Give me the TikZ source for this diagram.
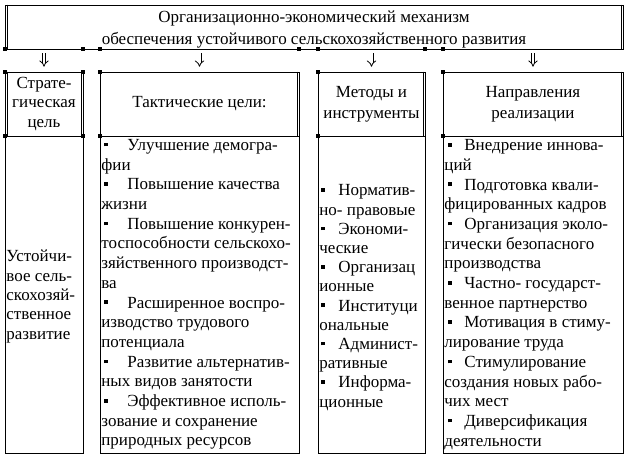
\documentclass[tikz,border=0pt]{standalone}
\usepackage{fontspec}
\setmainfont{Liberation Serif}
\usetikzlibrary{arrows.meta}
\newcommand\bulA{\makebox[26pt][l]{\hspace*{3pt}\rule[4pt]{3.6pt}{3.6pt}}}
\newcommand\bulB{\makebox[19pt][l]{\hspace*{2pt}\rule[4pt]{3.6pt}{3.6pt}}}
\newcommand\bulC{\makebox[20pt][l]{\hspace*{4pt}\rule[4pt]{3.6pt}{3.6pt}}}
\begin{document}
\begin{tikzpicture}[x=1pt,y=-1pt,
  every node/.style={font=\fontsize{17}{19.7}\selectfont},
  hbox/.style={draw,line width=0.6pt,inner sep=0pt,minimum height=64pt,align=center},
  bbox/.style={draw,line width=0.6pt,inner sep=0pt,minimum height=317pt},
  txt/.style={inner sep=0pt,align=left},
  dar/.style={double,double distance=2.4pt,line width=0.8pt,-{Implies},shorten <=4pt,shorten >=5pt},
  heavy/.style={line width=1.6pt},
  thinln/.style={line width=0.6pt}]
\useasboundingbox[fill=white] (0,0) rectangle (637,461);
% title box
\node[draw,line width=0.6pt,inner sep=0pt,minimum width=618pt,minimum height=44pt] (top) at (314,27) {};
\node[inner sep=0pt,align=center,font=\fontsize{17}{22}\selectfont] (title) at (314,29.5)
  {Организационно-экономический механизм\\обеспечения устойчивого сельскохозяйственного развития};
% header boxes
\node[hbox,minimum width=78pt,font=\fontsize{17}{19.5}\selectfont] (h1) at (44,104) {Страте-\\гическая\\цель};
\node[hbox,minimum width=199pt] (h2) at (199.5,104) {Тактические цели:};
\node[hbox,minimum width=107pt,font=\fontsize{17}{21}\selectfont] (h3) at (371.5,104) {Методы и\\инструменты};
\node[hbox,minimum width=180pt,font=\fontsize{17}{21}\selectfont] (h4) at (533,104) {Направления\\реализации};
% border styling
\foreach \n in {top,h1,h2,h3,h4}{
  \draw[heavy] (\n.south west) -- (\n.south east);
  \draw[thinln] ([xshift=-2.2pt]\n.north east) -- ([xshift=-2.2pt]\n.south east);
}
\draw[thinln] ([xshift=2.2pt]top.north west) -- ([xshift=2.2pt]top.south west);
\draw[thinln] ([xshift=2.2pt]h1.north west) -- ([xshift=2.2pt]h1.south west);
% corner marks
\foreach \x in {5,83,100,299,318,425,443}{
  \fill (\x,49) +(-1.6,-1.6) rectangle +(1.6,1.6);
}
\foreach \x in {5,83,100,318,443}{
  \fill (\x,72) +(-1.6,-1.6) rectangle +(1.6,1.6);
  \fill (\x,136) +(-1.6,-1.6) rectangle +(1.6,1.6);
}
% arrows
\foreach \n in {h1,h2,h3,h4}{
  \draw[dar] (top.south -| \n.north) -- (\n.north);
}
% body boxes
\node[bbox,minimum width=78pt] (b1) at (44,294.5) {};
\node[bbox,minimum width=199pt] (b2) at (199.5,294.5) {};
\node[bbox,minimum width=107pt] (b3) at (371.5,294.5) {};
\node[bbox,minimum width=180pt] (b4) at (533,294.5) {};
% body texts
\node[txt,anchor=west,font=\fontsize{17}{19.3}\selectfont] (t1) at ([xshift=1.5pt,yshift=-2pt]b1.west)
  {Устойчи-\\вое сель-\\скохозяй-\\ственное\\развитие};
\node[txt,anchor=west] (t2) at ([xshift=1.5pt]b2.west)
  {\bulA Улучшение демогра-\\
   фии\\
   \bulA Повышение качества\\
   жизни\\
   \bulA Повышение конкурен-\\
   тоспособности сельскохо-\\
   зяйственного производст-\\
   ва\\
   \bulA Расширенное воспро-\\
   изводство трудового\\
   потенциала\\
   \bulA Развитие альтернатив-\\
   ных видов занятости\\
   \bulA Эффективное исполь-\\
   зование и сохранение\\
   природных ресурсов};
\node[txt,anchor=west,font=\fontsize{17}{19.2}\selectfont] (t3) at ([xshift=1.5pt,yshift=-3pt]b3.west)
  {\bulB Норматив-\\
   но- правовые\\
   \bulB Экономи-\\
   ческие\\
   \bulB Организац\\
   ионные\\
   \bulB Институци\\
   ональные\\
   \bulB Админист-\\
   ративные\\
   \bulB Информа-\\
   ционные};
\node[txt,anchor=west] (t4) at ([xshift=1.5pt]b4.west)
  {\bulC Внедрение иннова-\\
   ций\\
   \bulC Подготовка квали-\\
   фицированных кадров\\
   \bulC Организация эколо-\\
   гически безопасного\\
   производства\\
   \bulC Частно- государст-\\
   венное партнерство\\
   \bulC Мотивация в стиму-\\
   лирование труда\\
   \bulC Стимулирование\\
   создания новых рабо-\\
   чих мест\\
   \bulC Диверсификация\\
   деятельности};
\end{tikzpicture}
\end{document}
